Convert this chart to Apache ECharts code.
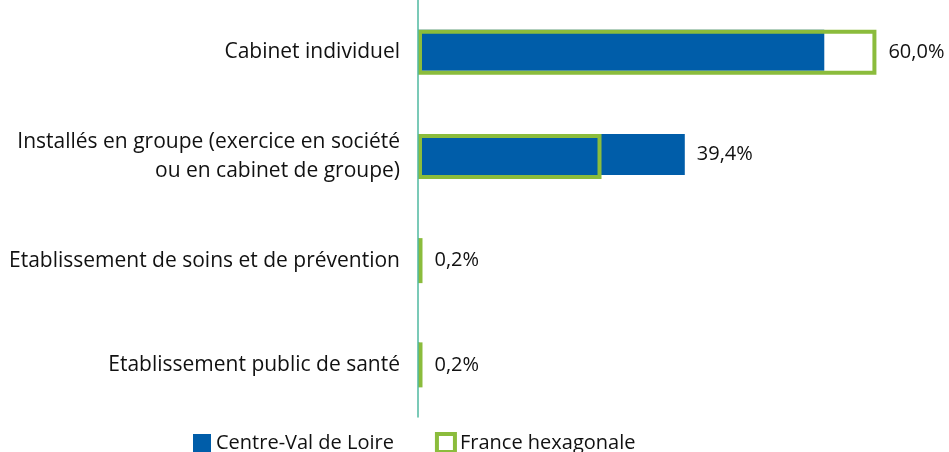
<!DOCTYPE html>
<html>
<head>
<meta charset="utf-8">
<script src="https://cdn.jsdelivr.net/npm/echarts@6/dist/echarts.min.js"></script>
<style>
  html, body { margin: 0; padding: 0; background: #fff; }
  #main { width: 949px; height: 452px; }
</style>
</head>
<body>
<div id="main"></div>
<script>
// catégories (de haut en bas)
var categories = [
  'Cabinet individuel',
  'Installés en groupe (exercice en société\nou en cabinet de groupe)',
  'Etablissement de soins et de prévention',
  'Etablissement public de santé'
];
var seriesNames = ['Centre-Val de Loire', 'France hexagonale'];
var centreVal = [60.0, 39.4, 0.2, 0.2];
var franceHex = [67.7, 27.1, 0.2, 0.2];

var blue = '#005DA9';
var green = '#8BBC3C';
var font = 'Open Sans';

function fmt(v) {
  return v.toFixed(1).replace('.', ',') + '%';
}

// l'étiquette (valeur Centre-Val de Loire) se place après la barre la plus longue
function buildData(values, isGreen) {
  return values.map(function (v, i) {
    var onGreen = franceHex[i] >= centreVal[i];
    return {
      value: v,
      label: {
        show: isGreen ? onGreen : !onGreen,
        formatter: fmt(centreVal[i]),
        distance: 12
      }
    };
  });
}

var myChart = echarts.init(document.getElementById('main'));
var option = {
  animation: false,
  textStyle: { fontFamily: font },
  grid: { left: 418, top: 0, width: 474, height: 417 },
  legend: {
    left: 193,
    top: 432,
    padding: 0,
    itemWidth: 18,
    itemHeight: 18,
    itemGap: 41,
    icon: 'rect',
    textStyle: { fontFamily: font, fontSize: 20, color: '#111', lineHeight: 18 },
    data: [
      { name: seriesNames[0] },
      { name: seriesNames[1], itemStyle: { color: '#fff', borderColor: green, borderWidth: 4 } }
    ]
  },
  xAxis: {
    type: 'value',
    min: 0,
    max: 70,
    show: false
  },
  yAxis: {
    type: 'category',
    inverse: true,
    data: categories,
    z: 5,
    axisLine: { lineStyle: { color: '#4FB9A0', width: 1.5 } },
    axisTick: { show: false },
    axisLabel: {
      margin: 18,
      fontFamily: font,
      fontSize: 21,
      color: '#111',
      align: 'right',
      lineHeight: 29
    }
  },
  series: [
    {
      name: seriesNames[0],
      type: 'bar',
      barWidth: 41,
      barGap: '-100%',
      itemStyle: { color: blue },
      label: { position: 'right', fontFamily: font, fontSize: 20, color: '#111' },
      data: buildData(centreVal, false)
    },
    {
      name: seriesNames[1],
      type: 'bar',
      barWidth: 45,
      barGap: '-100%',
      barMinHeight: 4.5,
      itemStyle: { color: 'rgba(0,0,0,0)', borderColor: green, borderWidth: 4 },
      label: { position: 'right', fontFamily: font, fontSize: 20, color: '#111' },
      data: buildData(franceHex, true)
    }
  ]
};
myChart.setOption(option);
</script>
</body>
</html>
